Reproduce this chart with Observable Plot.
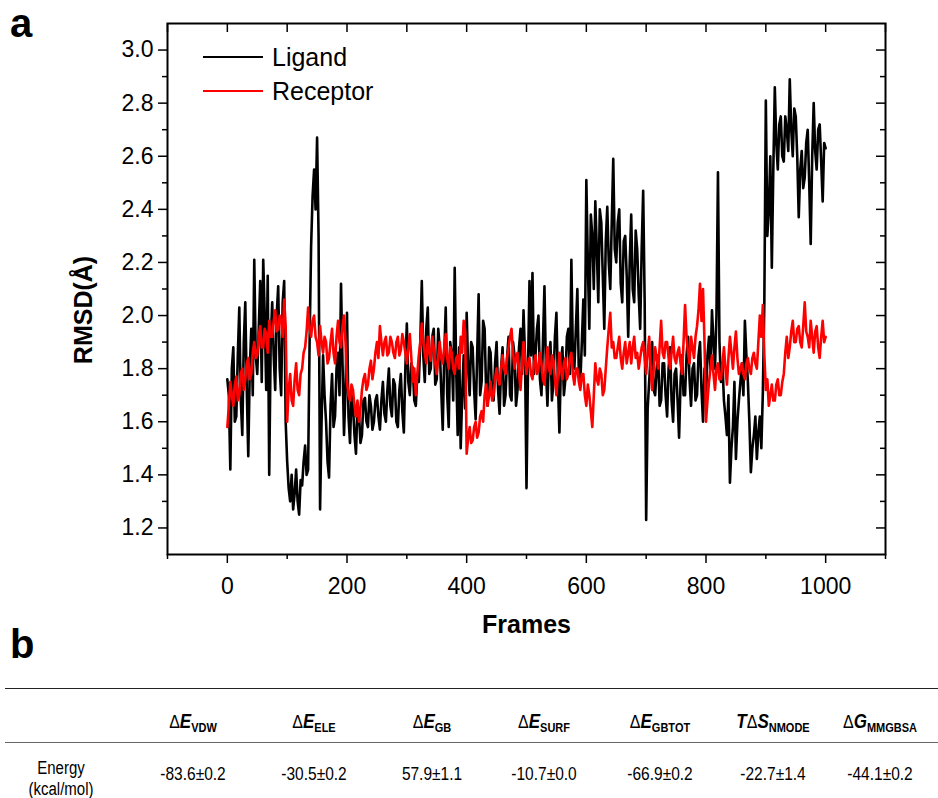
<!DOCTYPE html>
<html>
<head>
<meta charset="utf-8">
<script src="https://cdn.jsdelivr.net/npm/d3@7"></script>
<script src="https://cdn.jsdelivr.net/npm/@observablehq/plot@0.6"></script>
<style>
  body { margin: 0; background: white; font-family: "Liberation Sans", Arial, sans-serif; }
  #wrap { position: relative; width: 938px; height: 798px; overflow: hidden; background: white; }
  .panel { position: absolute; font-weight: bold; font-size: 40px; line-height: 40px; }
  .legend { position: absolute; left: 203px; top: 40px; font-size: 25px; }
  .legend .row { display: flex; align-items: center; height: 34px; }
  .legend .sw { width: 60px; height: 0; border-top: 2.5px solid black; margin-right: 9px; }
  .rule { position: absolute; left: 5px; right: 0; height: 0; }
  .cell { position: absolute; transform: translate(-50%, -50%) scaleY(1.2); white-space: nowrap; text-align: center; color: black; }
  .hdr { font-size: 16px; }
  .hdr .sym { font-weight: bold; font-style: italic; font-size: 17px; }
  .hdr .sub { font-weight: bold; font-size: 11px; vertical-align: -3px; }
  .val { font-size: 15.5px; }
  .lab { font-size: 15px; line-height: 17px; }
</style>
</head>
<body>
<div id="wrap"></div>
<script>
// ---------- data ----------
const frames = d3.range(0, 1000.1, 2.5);
const ligand = [
  1.76,1.70,1.42,1.80,1.88,1.60,1.62,1.85,2.03,1.68,1.55,1.90,2.05,1.72,1.47,1.80,1.95,1.70,2.21,1.85,
  1.78,1.95,2.13,1.75,2.21,2.00,1.72,2.15,1.40,1.90,2.05,1.85,1.72,2.00,2.11,1.80,1.70,2.05,2.13,1.60,
  1.45,1.35,1.30,1.40,1.27,1.33,1.42,1.30,1.25,1.38,1.36,1.45,1.51,1.40,1.42,1.90,2.26,2.45,2.55,2.40,
  2.67,2.30,1.27,1.60,1.85,1.70,1.60,1.45,1.39,1.66,1.78,1.58,1.62,1.80,1.86,1.70,2.12,1.82,1.55,1.72,
  2.01,1.62,1.52,1.70,1.66,1.55,1.48,1.66,1.63,1.52,1.55,1.68,1.69,1.60,1.58,1.70,1.66,1.57,1.60,1.68,
  1.70,1.62,1.57,1.68,1.75,1.63,1.60,1.72,1.80,1.66,1.62,1.76,1.74,1.60,1.58,1.72,1.78,1.64,1.56,1.80,
  1.97,1.75,1.70,1.82,1.80,1.68,1.66,1.78,1.75,1.90,2.13,1.85,1.75,1.95,2.03,1.78,1.80,1.92,1.95,1.74,
  1.76,1.95,1.88,1.72,1.57,1.85,2.03,1.70,1.58,1.90,1.85,1.68,2.18,1.80,1.55,1.88,1.50,1.70,1.85,1.65,
  2.01,1.80,1.70,1.90,1.88,1.72,1.61,1.85,2.08,1.70,1.75,1.98,1.95,1.72,1.66,1.88,1.86,1.70,1.68,1.82,
  1.90,1.72,1.63,1.80,1.88,1.66,1.70,1.84,1.92,1.70,1.68,1.90,1.85,1.66,1.72,1.88,1.95,1.78,2.02,1.85,
  1.35,1.80,2.13,1.85,2.16,1.78,1.85,1.95,2.00,1.76,1.70,1.90,2.11,1.80,1.66,1.85,1.90,1.68,1.75,1.92,
  2.01,1.75,1.56,1.82,1.88,1.70,1.76,1.92,1.95,1.78,2.21,1.85,1.80,1.95,2.10,1.78,1.75,1.90,2.06,1.85,
  2.51,2.20,1.95,2.38,2.30,2.10,2.43,2.25,2.05,2.40,2.35,2.15,1.95,2.28,2.41,2.20,2.10,2.35,2.59,2.25,
  2.20,2.35,2.40,2.12,2.05,2.28,2.30,2.15,1.92,2.20,2.38,2.10,2.05,2.32,2.25,2.08,1.95,2.25,2.47,2.05,
  1.23,1.65,1.75,1.85,1.90,1.72,1.70,1.80,1.85,1.66,1.68,1.82,1.82,1.70,1.62,1.80,1.88,1.68,1.60,1.78,
  1.80,1.68,1.54,1.75,1.85,1.70,1.70,1.85,1.92,1.76,1.66,1.80,1.82,1.68,1.70,1.85,1.90,1.72,1.60,1.80,
  1.70,1.85,1.92,1.80,2.02,1.90,1.80,2.00,2.54,1.90,1.75,1.82,1.68,1.62,1.55,1.70,1.37,1.50,1.58,1.75,
  1.46,1.60,1.68,1.75,1.82,1.70,1.98,1.85,1.75,1.60,1.41,1.50,1.55,1.62,1.46,1.56,1.62,1.50,1.71,2.05,
  2.81,2.30,2.40,2.60,2.18,2.55,2.86,2.65,2.55,2.72,2.75,2.60,2.58,2.75,2.70,2.62,2.89,2.70,2.60,2.78,
  2.75,2.60,2.37,2.55,2.62,2.48,2.52,2.65,2.70,2.50,2.27,2.60,2.80,2.62,2.55,2.70,2.72,2.58,2.43,2.65,
  2.63
];
const receptor = [
  1.58,1.66,1.75,1.70,1.66,1.74,1.77,1.68,1.70,1.78,1.80,1.72,1.76,1.82,1.84,1.76,1.78,1.86,1.90,1.84,
  1.85,1.92,1.96,1.88,1.88,1.95,1.93,1.86,1.98,1.92,1.92,1.98,2.02,1.94,1.95,2.00,1.98,1.92,2.06,1.96,
  1.60,1.72,1.78,1.68,1.66,1.76,1.82,1.72,1.70,1.78,1.80,1.86,1.88,1.94,2.03,1.95,1.92,1.98,2.00,1.92,
  1.90,1.85,1.96,1.90,1.86,1.92,1.90,1.82,1.84,1.90,1.95,1.86,1.82,1.92,1.98,1.90,1.88,1.96,2.00,1.90,
  1.75,1.70,1.68,1.74,1.72,1.66,1.62,1.68,1.60,1.65,1.72,1.76,1.78,1.72,1.74,1.80,1.83,1.76,1.80,1.86,
  1.90,1.84,1.96,1.90,1.85,1.90,1.92,1.85,1.86,1.92,1.90,1.86,1.84,1.90,1.92,1.85,1.87,1.93,1.90,1.86,
  1.82,1.88,1.93,1.84,1.75,1.80,1.70,1.78,1.85,1.90,1.97,1.90,1.86,1.82,1.92,1.86,1.83,1.92,1.88,1.82,
  1.78,1.85,1.90,1.84,1.82,1.88,1.93,1.84,1.80,1.88,1.86,1.80,1.78,1.84,1.85,1.80,1.92,1.86,1.98,1.94,
  1.48,1.54,1.58,1.52,1.53,1.58,1.60,1.54,1.56,1.62,1.64,1.60,1.70,1.74,1.66,1.70,1.75,1.68,1.70,1.76,
  1.80,1.76,1.74,1.80,1.85,1.80,1.78,1.84,1.88,1.92,1.95,1.86,1.80,1.84,1.86,1.78,1.72,1.82,1.90,1.84,
  1.78,1.82,1.84,1.78,1.76,1.82,1.85,1.78,1.80,1.86,1.82,1.76,1.74,1.82,1.88,1.80,1.78,1.85,1.83,1.76,
  1.70,1.78,1.86,1.80,1.76,1.82,1.84,1.76,1.78,1.84,1.86,1.78,1.74,1.80,1.80,1.75,1.72,1.78,1.78,1.70,
  1.66,1.74,1.70,1.64,1.58,1.70,1.82,1.76,1.74,1.80,1.78,1.70,1.72,1.80,1.88,1.95,2.01,1.88,1.90,1.84,
  1.84,1.88,1.92,1.84,1.80,1.86,1.90,1.82,1.86,1.90,1.82,1.88,1.92,1.84,1.86,1.80,1.84,1.88,1.90,1.84,
  1.78,1.86,1.92,1.80,1.72,1.80,1.88,1.84,1.80,1.88,1.98,1.86,1.84,1.90,1.90,1.84,1.80,1.86,1.92,1.84,
  1.82,1.86,1.88,1.82,1.78,1.90,2.04,1.92,1.86,1.82,1.92,1.88,1.84,1.92,1.96,2.02,2.12,1.98,2.10,1.90,
  1.60,1.68,1.75,1.80,1.85,1.78,1.72,1.80,1.82,1.76,1.76,1.82,1.88,1.80,1.74,1.84,1.92,1.86,1.80,1.88,
  1.94,1.84,1.78,1.80,1.82,1.78,1.76,1.82,1.84,1.80,1.78,1.84,1.86,1.82,1.80,1.90,2.00,1.92,2.04,1.85,
  1.72,1.76,1.66,1.70,1.74,1.68,1.68,1.74,1.76,1.70,1.70,1.75,1.78,1.86,1.92,1.84,1.88,1.94,1.98,1.90,
  1.90,1.95,1.96,1.90,1.88,1.96,2.05,1.94,1.92,1.88,1.98,1.92,1.86,1.94,1.96,1.88,1.84,1.92,1.98,1.90,
  1.92
];
const seriesNames = ["Ligand", "Receptor"];
const xTickValues = [0, 200, 400, 600, 800, 1000];
const xMinorTicks = [-100, 100, 300, 500, 700, 900, 1100];
const yTickValues = [1.2, 1.4, 1.6, 1.8, 2.0, 2.2, 2.4, 2.6, 2.8, 3.0];
const yMinorTicks = [1.3, 1.5, 1.7, 1.9, 2.1, 2.3, 2.5, 2.7, 2.9];
const xTitle = "Frames";
const yTitle = "RMSD(Å)";

const termSymbols = ["ΔE", "ΔE", "ΔE", "ΔE", "ΔE", "TΔS", "ΔG"];
const termSubs = ["VDW", "ELE", "GB", "SURF", "GBTOT", "NMODE", "MMGBSA"];
const energyValues = ["-83.6±0.2", "-30.5±0.2", "57.9±1.1", "-10.7±0.0", "-66.9±0.2", "-22.7±1.4", "-44.1±0.2"];
const rowLabel = ["Energy", "(kcal/mol)"];

// ---------- chart ----------
const data = frames.map((f, i) => ({frame: f, ligand: ligand[i], receptor: receptor[i]}));
const W = 938, H = 660, mL = 167, mR = 53, mT = 23, mB = 106;
const innerW = W - mL - mR, innerH = H - mT - mB;

const chart = Plot.plot({
  width: W, height: H,
  marginLeft: mL, marginRight: mR, marginTop: mT, marginBottom: mB,
  style: {fontFamily: "'Liberation Sans', Arial, sans-serif", fontSize: "23px", color: "black", background: "white", overflow: "visible"},
  x: {domain: [-100, 1100], label: null},
  y: {domain: [1.1, 3.1], label: null},
  marks: [
    Plot.line(data, {x: "frame", y: "ligand", stroke: "black", strokeWidth: 2.6}),
    Plot.line(data, {x: "frame", y: "receptor", stroke: "#ff0000", strokeWidth: 2.6}),
    Plot.frame({stroke: "black", strokeWidth: 2}),
    Plot.axisX(xTickValues, {tickSize: 9, tickPadding: 14, tickFormat: d => String(d), strokeWidth: 1.5}),
    Plot.axisX(xMinorTicks, {tickSize: 5, tickFormat: () => "", strokeWidth: 1.5}),
    Plot.axisY(yTickValues, {tickSize: 9, tickPadding: 5, tickFormat: d => d.toFixed(1), strokeWidth: 1.5}),
    Plot.axisY(yMinorTicks, {tickSize: 5, tickFormat: () => "", strokeWidth: 1.5}),
    Plot.tickY(yTickValues, {insetLeft: innerW - 9, strokeWidth: 1.5}),
    Plot.tickY(yMinorTicks, {insetLeft: innerW - 5, strokeWidth: 1.5}),
    Plot.tickX(xTickValues.concat(xMinorTicks), {insetBottom: innerH - 9, strokeWidth: 1.5}),
    Plot.text([xTitle], {text: d => d, frameAnchor: "bottom", dy: 78, fontWeight: "bold", fontSize: 25}),
    Plot.text([yTitle], {text: d => d, frameAnchor: "left", textAnchor: "middle", dx: -84, dy: 21, rotate: -90, fontWeight: "bold", fontSize: 25})
  ]
});

const wrap = document.getElementById("wrap");
chart.style.position = "absolute";
chart.style.left = "0px";
chart.style.top = "0px";
wrap.appendChild(chart);

function addDiv(cls, html, css) {
  const d = document.createElement("div");
  d.className = cls;
  d.innerHTML = html;
  Object.assign(d.style, css);
  wrap.appendChild(d);
  return d;
}
addDiv("panel", "a", {left: "10px", top: "3px"});
addDiv("panel", "b", {left: "10px", top: "624px"});

// legend
const legendColors = ["black", "#ff0000"];
const leg = addDiv("legend", "", {});
seriesNames.forEach((n, i) => {
  const r = document.createElement("div");
  r.className = "row";
  r.innerHTML = `<span class="sw" style="border-top-color:${legendColors[i]}"></span><span>${n}</span>`;
  leg.appendChild(r);
});

// table
addDiv("rule", "", {top: "688px", borderTop: "1.5px solid #222"});
addDiv("rule", "", {top: "742px", borderTop: "1.5px solid #666"});
const colX = [193, 314, 432, 544, 660, 773, 880];
function symHtml(s) {
  return [...s].map(ch => ch === "Δ" ? `<span>Δ</span>` : `<span class="sym">${ch}</span>`).join("");
}
termSymbols.forEach((s, i) => {
  addDiv("cell hdr", `${symHtml(s)}<span class="sub">${termSubs[i]}</span>`, {left: colX[i] + "px", top: "722px"});
  addDiv("cell val", energyValues[i], {left: colX[i] + "px", top: "774px"});
});
addDiv("cell lab", rowLabel.join("<br>"), {left: "61px", top: "778px"});
</script>
</body>
</html>
